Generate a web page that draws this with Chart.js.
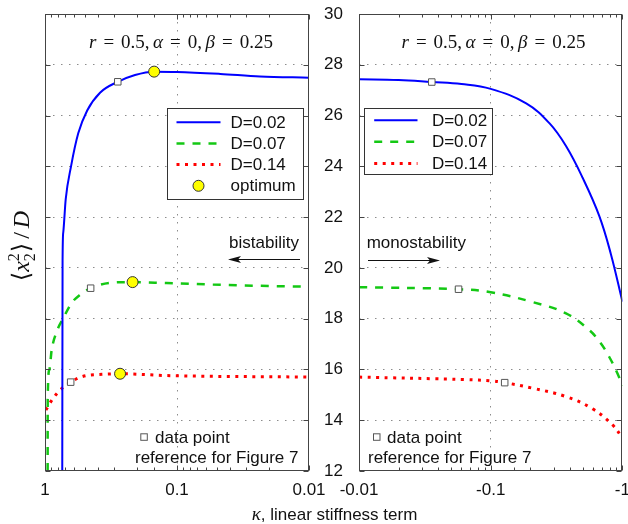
<!DOCTYPE html>
<html>
<head>
<meta charset="utf-8">
<script src="https://cdn.jsdelivr.net/npm/chart.js@4.4.1/dist/chart.umd.min.js"></script>
<style>
    html, body { margin: 0; padding: 0; background: #fff; overflow: hidden; }
    #wrap { position: relative; width: 628px; height: 524px; }
    canvas { position: absolute; top: 0; }
    #bist { left: 0; }
    #mono { left: 290px; }
    #xtitle {
        position: absolute; left: 0; width: 669px; top: 503px;
        text-align: center; color: #111;
        font: 17px 'Liberation Sans', Arial, sans-serif;
    }
    #xtitle i { font: italic 19px 'Liberation Serif', 'DejaVu Serif', serif; }
</style>
</head>
<body>
<div id="wrap">
    <canvas id="bist" width="340" height="524"></canvas>
    <canvas id="mono" width="338" height="524"></canvas>
    <div id="xtitle"><i>κ</i>, linear stiffness term</div>
</div>
<script>
// ── Axis ranges ──
const Y_MIN = 12, Y_MAX = 30, Y_STEP = 2;
const K_MIN = 0.01, K_MAX = 1;

// ── κ > 0 (bistable side) ──
const kapL02 = [0.740, 0.736, 0.727, 0.697, 0.635, 0.560, 0.479, 0.383, 0.281, 0.208, 0.149, 0.100, 0.047, 0.0235, 0.010];
const valL02 = [12.0, 20.3, 21.4, 22.7, 24.0, 25.3, 26.2, 26.9, 27.33, 27.6, 27.73, 27.72, 27.64, 27.54, 27.49];
const kapL07 = [0.955, 0.954, 0.928, 0.890, 0.815, 0.727, 0.628, 0.543, 0.451, 0.322, 0.217, 0.120, 0.0333, 0.010];
const valL07 = [12.0, 14.8, 15.98, 16.77, 17.49, 18.02, 18.62, 18.94, 19.20, 19.41, 19.44, 19.40, 19.31, 19.26];
const kapL14 = [0.985, 0.890, 0.807, 0.727, 0.639, 0.560, 0.483, 0.370, 0.270, 0.120, 0.010];
const valL14 = [14.40, 14.78, 15.07, 15.30, 15.50, 15.66, 15.76, 15.81, 15.83, 15.76, 15.70];
const kapLRef = [0.281, 0.451, 0.639];
const valLRef = [27.33, 19.20, 15.50];
const kapLOpt = [0.149, 0.217, 0.270];
const valLOpt = [27.73, 19.44, 15.83];

// ── κ < 0 (monostable side), stored as |κ| ──
const kapR02 = [0.01, 0.02, 0.0357, 0.06, 0.1, 0.186, 0.279, 0.373, 0.499, 0.667, 0.817, 1];
const valR02 = [27.43, 27.40, 27.32, 27.24, 27.05, 26.48, 25.70, 24.80, 23.55, 22.05, 20.55, 18.67];
const kapR07 = [0.01, 0.057, 0.1, 0.209, 0.373, 0.560, 0.68, 0.793, 0.916, 1];
const valR07 = [19.24, 19.16, 19.04, 18.65, 18.21, 17.55, 17.05, 16.50, 15.85, 15.35];
const kapR14 = [0.01, 0.0655, 0.1, 0.1277, 0.209, 0.373, 0.593, 0.840, 1];
const valR14 = [15.70, 15.60, 15.55, 15.48, 15.26, 14.93, 14.45, 13.82, 13.30];
const kapRRef = [0.0357, 0.057, 0.1277];
const valRRef = [27.32, 19.16, 15.48];

// ── Styles ──
const SANS = "'Liberation Sans', Arial, Helvetica, sans-serif";
const SERIF = "'Liberation Serif', 'DejaVu Serif', serif";
const INK = '#111';
const FRAME = '#444';
const GRID = '#8c8c8c';
const NONE = 'rgba(0,0,0,0)';
const BLUE = '#0000ff', GREEN = '#14c814', RED = '#ff0000';

// ── Helpers ──
function pts(xs, ys) {
    return xs.map((x, i) => ({ x: x, y: ys[i] }));
}

function isDecade(v) {
    const l = Math.log10(v);
    return Math.abs(l - Math.round(l)) < 1e-6;
}

function curve(label, xs, ys, color, width, dash, smooth) {
    const ds = {
        label, data: pts(xs, ys),
        borderColor: color, borderWidth: width, borderDash: dash,
        borderCapStyle: 'butt',
        pointRadius: 0, fill: false,
        inLegend: true, order: 2
    };
    if (smooth === 'monotone') ds.cubicInterpolationMode = 'monotone';
    else ds.tension = 0.4;
    return ds;
}

function refMarks(xs, ys) {
    return {
        label: 'data point', data: pts(xs, ys), showLine: false,
        pointStyle: 'rect', pointRadius: 4.6,
        pointBackgroundColor: '#fff', pointBorderColor: '#555', pointBorderWidth: 1,
        order: 0
    };
}

function optMarks(xs, ys) {
    return {
        label: 'optimum', data: pts(xs, ys), showLine: false,
        pointStyle: 'circle', pointRadius: 5.5,
        pointBackgroundColor: '#ffff00', pointBorderColor: '#333', pointBorderWidth: 1,
        inLegend: true, order: 0
    };
}

// draws math-like text from pieces, centred on (0,0) of the current transform
function drawPieces(ctx, pieces, size) {
    let total = 0;
    pieces.forEach(p => {
        if (p.sup) {
            ctx.font = Math.round(size * 0.68) + 'px ' + SERIF;
            p.w = ctx.measureText(p.sup).width;
        } else {
            ctx.font = (p.it ? 'italic ' : '') + size + 'px ' + SERIF;
            p.w = ctx.measureText(p.t).width;
        }
        total += p.w + (p.gap || 0);
    });
    let x = -total / 2;
    ctx.textAlign = 'left';
    ctx.textBaseline = 'alphabetic';
    ctx.fillStyle = INK;
    pieces.forEach(p => {
        if (p.sup) {
            ctx.font = Math.round(size * 0.68) + 'px ' + SERIF;
            ctx.fillText(p.sup, x, size * 0.35 - size * 0.42);
            ctx.fillText(p.sub, x, size * 0.35 + size * 0.22);
        } else {
            ctx.font = (p.it ? 'italic ' : '') + size + 'px ' + SERIF;
            ctx.fillText(p.t, x, size * 0.35);
        }
        x += p.w + (p.gap || 0);
    });
}

const G = 7;
const paramPieces = [
    { t: 'r', it: true, gap: G }, { t: '=', gap: G }, { t: '0.5,', gap: 3.5 },
    { t: 'α', it: true, gap: G }, { t: '=', gap: G }, { t: '0,', gap: 3.5 },
    { t: 'β', it: true, gap: G }, { t: '=', gap: G }, { t: '0.25' }
];
const yTitlePieces = [
    { t: '⟨' }, { t: 'x', it: true }, { sup: '2', sub: '2', gap: 1 },
    { t: '⟩', gap: 4 }, { t: '/', gap: 4 }, { t: 'D', it: true }
];

function refSquare(ctx, x, y) {
    ctx.fillStyle = '#fff';
    ctx.strokeStyle = '#555';
    ctx.lineWidth = 1;
    ctx.fillRect(x - 3.2, y - 3.2, 6.5, 6.5);
    ctx.strokeRect(x - 3.2, y - 3.2, 6.5, 6.5);
}

function drawLegend(ctx, a, L, datasets) {
    const x0 = Math.round(a.left + L.x) + 0.5, y0 = Math.round(a.top + L.y) + 0.5;
    ctx.fillStyle = '#fff';
    ctx.fillRect(x0, y0, L.w, L.h);
    ctx.strokeStyle = '#333';
    ctx.lineWidth = 1;
    ctx.setLineDash([]);
    ctx.strokeRect(x0, y0, L.w, L.h);
    datasets.filter(d => d.inLegend).forEach((d, i) => {
        const y = y0 + L.first + i * L.step;
        if (d.showLine === false) {
            ctx.beginPath();
            ctx.arc(x0 + (L.s0 + L.s1) / 2, y, d.pointRadius, 0, Math.PI * 2);
            ctx.fillStyle = d.pointBackgroundColor;
            ctx.fill();
            ctx.strokeStyle = d.pointBorderColor;
            ctx.lineWidth = 1;
            ctx.stroke();
        } else {
            ctx.beginPath();
            ctx.setLineDash(d.borderDash || []);
            ctx.strokeStyle = d.borderColor;
            ctx.lineWidth = d.borderWidth;
            ctx.lineCap = 'butt';
            ctx.moveTo(x0 + L.s0, y);
            ctx.lineTo(x0 + L.s1, y);
            ctx.stroke();
            ctx.setLineDash([]);
        }
        ctx.fillStyle = INK;
        ctx.font = '17px ' + SANS;
        ctx.textAlign = 'left';
        ctx.textBaseline = 'middle';
        ctx.fillText(d.label, x0 + L.tx, y + 1);
    });
}

function drawArrow(ctx, x0, x1, y) {
    const dir = Math.sign(x1 - x0);
    ctx.strokeStyle = INK;
    ctx.fillStyle = INK;
    ctx.lineWidth = 1.2;
    ctx.beginPath();
    ctx.moveTo(x0, y);
    ctx.lineTo(x1 - dir * 8, y);
    ctx.stroke();
    ctx.beginPath();
    ctx.moveTo(x1, y);
    ctx.lineTo(x1 - dir * 13, y - 3.5);
    ctx.lineTo(x1 - dir * 10, y);
    ctx.lineTo(x1 - dir * 13, y + 3.5);
    ctx.closePath();
    ctx.fill();
}

// ── Frame, inward ticks, legend and annotations ──
const decor = {
    id: 'decor',
    afterDatasetsDraw(chart, args, o) {
        const { ctx, chartArea: a, scales } = chart;
        ctx.save();
        ctx.setLineDash([]);
        ctx.strokeStyle = FRAME;
        ctx.lineWidth = 1;

        const L = Math.round(a.left) + 0.5, R = Math.round(a.right) - 0.5;
        const T = Math.round(a.top) + 0.5, B = Math.round(a.bottom) - 0.5;

        ctx.beginPath();
        scales.x.ticks.forEach(t => {
            const px = Math.round(scales.x.getPixelForValue(t.value)) + 0.5;
            const len = isDecade(t.value) ? 5 : 3;
            ctx.moveTo(px, B); ctx.lineTo(px, B - len);
            ctx.moveTo(px, T); ctx.lineTo(px, T + len);
        });
        scales.y.ticks.forEach(t => {
            const py = Math.round(scales.y.getPixelForValue(t.value)) + 0.5;
            ctx.moveTo(L, py); ctx.lineTo(L + 5, py);
            ctx.moveTo(R, py); ctx.lineTo(R - 5, py);
        });
        ctx.stroke();
        ctx.strokeRect(L, T, R - L, B - T);

        // parameter line
        ctx.save();
        ctx.translate(a.left + o.title.cx, a.top + o.title.y);
        drawPieces(ctx, paramPieces, 19);
        ctx.restore();

        // y-axis title
        if (o.yTitle) {
            ctx.save();
            ctx.translate(o.yTitle.x, o.yTitle.y);
            ctx.rotate(-Math.PI / 2);
            drawPieces(ctx, yTitlePieces, 24);
            ctx.restore();
        }

        drawLegend(ctx, a, o.legend, chart.data.datasets);

        // stability direction
        ctx.fillStyle = INK;
        ctx.font = '17px ' + SANS;
        ctx.textBaseline = 'alphabetic';
        ctx.textAlign = o.note.align;
        ctx.fillText(o.note.text, a.left + o.note.x, a.top + o.note.y);
        drawArrow(ctx, a.left + o.arrow.x0, a.left + o.arrow.x1, a.top + o.arrow.y);

        // reference key
        refSquare(ctx, a.left + o.ref.sx, a.top + o.ref.sy);
        ctx.fillStyle = INK;
        ctx.textAlign = 'left';
        ctx.fillText('data point', a.left + o.ref.tx, a.top + o.ref.ty);
        ctx.fillText('reference for Figure 7', a.left + o.ref.lx, a.top + o.ref.ly);
        ctx.restore();
    }
};

function yScale(showLabels, width) {
    return {
        type: 'linear', min: Y_MIN, max: Y_MAX,
        ticks: { stepSize: Y_STEP, display: showLabels, padding: 16, color: INK, font: { size: 17, family: SANS } },
        grid: {
            drawTicks: false, lineWidth: 1,
            color: c => (c.tick && (c.tick.value === Y_MIN || c.tick.value === Y_MAX)) ? NONE : GRID
        },
        border: { display: false, dash: [1.5, 6.5] },
        afterFit: s => { s.width = width; s.paddingTop = 0; s.paddingBottom = 0; }
    };
}

function xScale(reverse, fmt) {
    return {
        type: 'logarithmic', min: K_MIN, max: K_MAX, reverse: reverse,
        ticks: {
            autoSkip: false, maxRotation: 0, padding: 9, color: INK,
            font: { size: 17, family: SANS },
            callback: v => isDecade(v) ? fmt(v) : ''
        },
        grid: {
            drawTicks: false, lineWidth: 1,
            color: c => (c.tick && isDecade(c.tick.value) && c.tick.value > 0.011 && c.tick.value < 0.99) ? GRID : NONE
        },
        border: { display: false, dash: [1.5, 6.5] },
        afterFit: s => { s.height = 53; s.paddingLeft = 0; s.paddingRight = 0; }
    };
}

const common = {
    responsive: false,
    animation: false,
    events: [],
    plugins: { legend: { display: false }, tooltip: { enabled: false } }
};

// ── Left panel: bistability ──
new Chart(document.getElementById('bist'), {
    type: 'line',
    data: {
        datasets: [
            curve('D=0.02', kapL02, valL02, BLUE, 2, [], 'monotone'),
            curve('D=0.07', kapL07, valL07, GREEN, 2.5, [8, 8], 'monotone'),
            curve('D=0.14', kapL14, valL14, RED, 3, [3, 5.5], 'monotone'),
            optMarks(kapLOpt, valLOpt),
            refMarks(kapLRef, valLRef)
        ]
    },
    options: {
        ...common,
        layout: { padding: { top: 14, right: 31, left: 0, bottom: 0 } },
        scales: {
            x: xScale(true, v => String(+v.toPrecision(1))),
            y: yScale(false, 45)
        },
        plugins: {
            ...common.plugins,
            decor: {
                title: { cx: 136, y: 27 },
                yTitle: { x: 21, y: 246 },
                legend: { x: 122, y: 94, w: 136, h: 91, first: 13.7, step: 21.2, s0: 9, s1: 53, tx: 63 },
                note: { text: 'bistability', x: 254, y: 234, align: 'right' },
                arrow: { x0: 255, x1: 183, y: 245.5 },
                ref: { sx: 99, sy: 423, tx: 110, ty: 428.7, lx: 90, ly: 449.3 }
            }
        }
    },
    plugins: [decor]
});

// ── Right panel: monostability ──
new Chart(document.getElementById('mono'), {
    type: 'line',
    data: {
        datasets: [
            curve('D=0.02', kapR02, valR02, BLUE, 2, []),
            curve('D=0.07', kapR07, valR07, GREEN, 2.5, [8, 8]),
            curve('D=0.14', kapR14, valR14, RED, 3, [3, 5.5]),
            refMarks(kapRRef, valRRef)
        ]
    },
    options: {
        ...common,
        layout: { padding: { top: 14, right: 5, left: 0, bottom: 0 } },
        scales: {
            x: xScale(false, v => '-' + String(+v.toPrecision(1))),
            y: yScale(true, 69)
        },
        plugins: {
            ...common.plugins,
            decor: {
                title: { cx: 134.5, y: 27 },
                legend: { x: 5.3, y: 94.3, w: 128, h: 66, first: 11.7, step: 21.6, s0: 9.7, s1: 53, tx: 67.4 },
                note: { text: 'monostability', x: 7.7, y: 234, align: 'left' },
                arrow: { x0: 9, x1: 81, y: 246.5 },
                ref: { sx: 17.7, sy: 423, tx: 28, ty: 428.7, lx: 9, ly: 449.3 }
            }
        }
    },
    plugins: [decor]
});
</script>
</body>
</html>
